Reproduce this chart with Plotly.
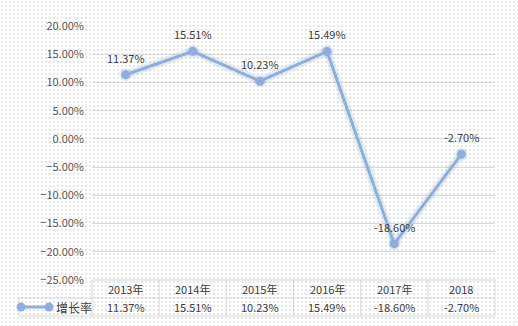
import plotly.graph_objects as go

# Yearly growth rate
years = ["2013年", "2014年", "2015年", "2016年", "2017年", "2018"]
growth = [0.1137, 0.1551, 0.1023, 0.1549, -0.1860, -0.0270]
series_name = "增长率"

W, H = 518, 326
LINE = "#8eaedc"
GRID = "#d9d9d9"
TXT = "#404040"
FONT = "Noto Sans CJK SC"

# plot area box in pixels
X0, X1 = 92, 495
Y_TOP, Y_BOT = 26, 280
ROW = 18


def px(x):
    return x / W


def py(y):
    return 1 - y / H


def pct(v):
    return f"{v*100:.2f}%"


fig = go.Figure()

# dotted background across the whole canvas
fig.add_trace(go.Scatter(
    x=[0, 1, 1, 0, 0], y=[0, 0, 1, 1, 0], mode="none", fill="toself",
    fillcolor="white",
    fillpattern=dict(shape=".", fgcolor="#c4c4c4", bgcolor="white", size=4, solidity=0.1),
    hoverinfo="skip", showlegend=False, xaxis="x", yaxis="y",
))

# soft glow under the line
fig.add_trace(go.Scatter(
    x=years, y=growth, mode="lines+markers",
    line=dict(color="rgba(142,174,220,0.22)", width=8),
    marker=dict(size=13, color="rgba(142,174,220,0.22)"),
    hoverinfo="skip", showlegend=False, xaxis="x2", yaxis="y2",
))

fig.add_trace(go.Scatter(
    x=years, y=growth, mode="lines+markers", name=series_name,
    line=dict(color=LINE, width=3),
    marker=dict(size=9, color=LINE),
    showlegend=False, xaxis="x2", yaxis="y2",
))

fig.update_layout(
    template="none",
    width=W, height=H,
    margin=dict(l=0, r=0, t=0, b=0, pad=0),
    paper_bgcolor="white",
    plot_bgcolor="rgba(0,0,0,0)",
    font=dict(family=FONT, size=11, color=TXT),
    xaxis=dict(domain=[0, 1], range=[0, 1], visible=False, fixedrange=True),
    yaxis=dict(domain=[0, 1], range=[0, 1], visible=False, fixedrange=True),
    xaxis2=dict(domain=[px(X0), px(X1)], anchor="y2", range=[-0.5, 5.5],
                type="category", showticklabels=False, showgrid=False,
                zeroline=False, showline=False, ticks=""),
    yaxis2=dict(domain=[py(Y_BOT), py(Y_TOP)], anchor="x2", range=[-0.25, 0.20],
                dtick=0.05, tick0=0, tickformat=".2%", showgrid=True,
                gridcolor=GRID, gridwidth=1, zeroline=False, showline=False,
                ticks="", ticklabelstandoff=7,
                tickfont=dict(family=FONT, size=11, color="#595959")),
)

# data table below the plot
shapes = []
col_w = (X1 - X0) / len(years)
L0 = 19
line_style = dict(color=GRID, width=1)
shapes.append(dict(type="line", xref="paper", yref="paper",
                   x0=px(X0), x1=px(X1), y0=py(Y_BOT), y1=py(Y_BOT), line=line_style))
for yy in (Y_BOT + ROW, Y_BOT + 2 * ROW):
    shapes.append(dict(type="line", xref="paper", yref="paper",
                       x0=px(L0), x1=px(X1), y0=py(yy), y1=py(yy), line=line_style))
for i in range(len(years) + 1):
    xx = X0 + i * col_w
    shapes.append(dict(type="line", xref="paper", yref="paper",
                       x0=px(xx), x1=px(xx), y0=py(Y_BOT), y1=py(Y_BOT + 2 * ROW), line=line_style))
shapes.append(dict(type="line", xref="paper", yref="paper",
                   x0=px(L0), x1=px(L0), y0=py(Y_BOT + ROW), y1=py(Y_BOT + 2 * ROW), line=line_style))

# legend key in the table
ky = py(Y_BOT + ROW * 1.5)
shapes.append(dict(type="line", xref="paper", yref="paper",
                   x0=px(21), x1=px(49), y0=ky, y1=ky, line=dict(color=LINE, width=3)))
for cx in (21, 49):
    shapes.append(dict(type="circle", xref="paper", yref="paper",
                       x0=px(cx - 4.5), x1=px(cx + 4.5), y0=ky - 4.5 / H, y1=ky + 4.5 / H,
                       fillcolor=LINE, line=dict(width=0)))

annotations = []
# value labels above the points (category index as x position)
for i, v in enumerate(growth):
    annotations.append(dict(xref="x2", yref="y2", x=i, y=v, text=pct(v),
                            showarrow=False, xanchor="center", yanchor="middle",
                            yshift=17, font=dict(family=FONT, size=11, color=TXT)))
for i, (yr, v) in enumerate(zip(years, growth)):
    cx = px(X0 + (i + 0.5) * col_w)
    annotations.append(dict(xref="paper", yref="paper", x=cx, y=py(Y_BOT + ROW / 2),
                            text=yr, showarrow=False, xanchor="center", yanchor="middle",
                            font=dict(family=FONT, size=11, color=TXT)))
    annotations.append(dict(xref="paper", yref="paper", x=cx, y=py(Y_BOT + ROW * 1.5),
                            text=pct(v), showarrow=False, xanchor="center",
                            yanchor="middle", font=dict(family=FONT, size=11, color=TXT)))
annotations.append(dict(xref="paper", yref="paper", x=px(54), y=ky, text=series_name,
                        showarrow=False, xanchor="left", yanchor="middle",
                        font=dict(family=FONT, size=12, color=TXT)))

fig.update_layout(shapes=shapes, annotations=annotations)

fig.write_html("out.html")
